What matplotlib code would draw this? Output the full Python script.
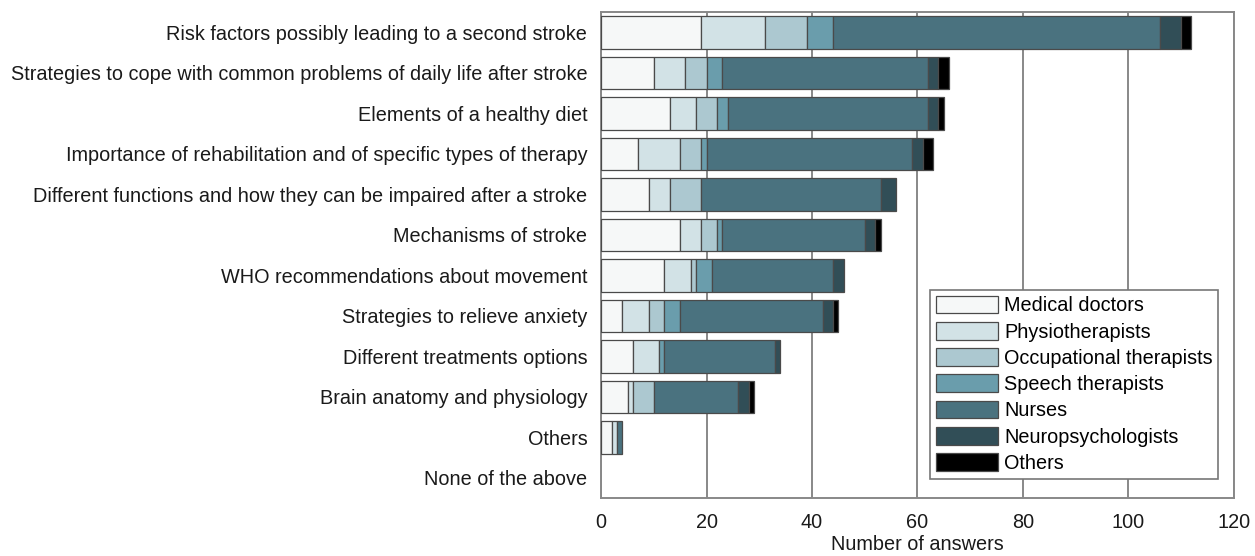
import matplotlib
matplotlib.use("Agg")
import matplotlib.pyplot as plt
import numpy as np

# Topics, top to bottom
topics = [
    "Risk factors possibly leading to a second stroke",
    "Strategies to cope with common problems of daily life after stroke",
    "Elements of a healthy diet",
    "Importance of rehabilitation and of specific types of therapy",
    "Different functions and how they can be impaired after a stroke",
    "Mechanisms of stroke",
    "WHO recommendations about movement",
    "Strategies to relieve anxiety",
    "Different treatments options",
    "Brain anatomy and physiology",
    "Others",
    "None of the above",
]

professions = [
    "Medical doctors",
    "Physiotherapists",
    "Occupational therapists",
    "Speech therapists",
    "Nurses",
    "Neuropsychologists",
    "Others",
]

# Answers per profession for each topic
medical_doctors = [19, 10, 13, 7, 9, 15, 12, 4, 6, 5, 2, 0]
physiotherapists = [12, 6, 5, 8, 4, 4, 5, 5, 5, 1, 1, 0]
occupational = [8, 4, 4, 4, 6, 3, 1, 3, 0, 4, 0, 0]
speech = [5, 3, 2, 1, 0, 1, 3, 3, 1, 0, 0, 0]
nurses = [62, 39, 38, 39, 34, 27, 23, 27, 21, 16, 1, 0]
neuropsychologists = [4, 2, 2, 2, 3, 2, 2, 2, 1, 2, 0, 0]
others = [2, 2, 1, 2, 0, 1, 0, 1, 0, 1, 0, 0]

colors = ["#f6f8f8", "#d2e2e6", "#acc8d0", "#6a9dac", "#4a727f", "#314e57", "#000000"]

plt.rcParams["font.family"] = ["Liberation Sans", "DejaVu Sans"]
fs = 14.3

fig = plt.figure(figsize=(12.55, 5.56), dpi=100)
ax = fig.add_axes([0.479, 0.104, 0.504, 0.874])

series = [medical_doctors, physiotherapists, occupational, speech,
          nurses, neuropsychologists, others]
y = np.arange(len(topics))
left = np.zeros(len(topics))
for name, vals, col in zip(professions, series, colors):
    vals = np.array(vals, dtype=float)
    # no outline on empty segments
    edges = ["#4a4a4a" if v > 0 else "none" for v in vals]
    ax.barh(y, vals, left=left, height=0.8, color=col, edgecolor=edges,
            linewidth=0.9, label=name, zorder=3)
    left += vals

ax.set_xlim(0, 120)
ax.set_ylim(len(topics) - 0.5, -0.5)
ax.set_xticks(np.arange(0, 121, 20))
ax.set_yticks(y)
ax.set_yticklabels(topics)
ax.tick_params(axis="y", length=0, pad=10, labelsize=fs, colors="#1a1a1a")
ax.tick_params(axis="x", length=0, pad=11, labelsize=fs, colors="#1a1a1a")
ax.xaxis.grid(True, color="#888888", linewidth=1.4, zorder=0)
ax.set_axisbelow(True)
for s in ax.spines.values():
    s.set_color("#888888")
    s.set_linewidth(1.4)
ax.set_xlabel("Number of answers", fontsize=fs, color="#1a1a1a", labelpad=2)

leg = ax.legend(loc="lower right", bbox_to_anchor=(0.976, 0.04), fontsize=fs,
                fancybox=False, edgecolor="#777777", framealpha=1,
                handlelength=3.1, handleheight=1.0, labelspacing=0.33,
                handletextpad=0.3, borderpad=0.3, borderaxespad=0)
leg.get_frame().set_linewidth(1.2)
leg.legend_handles[0].set_edgecolor("#4a4a4a")
leg.set_zorder(5)

fig.savefig("out.png", dpi=100)
